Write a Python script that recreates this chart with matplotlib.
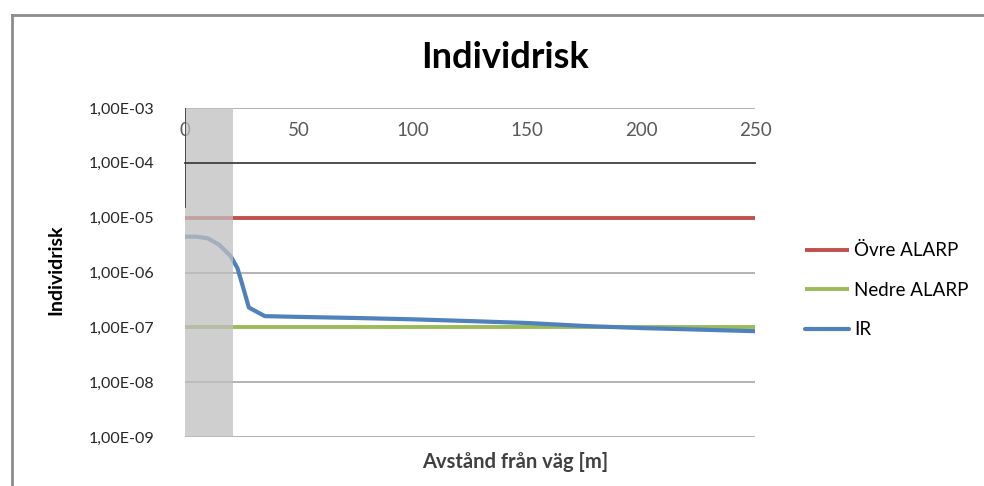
import matplotlib
matplotlib.use("Agg")
import matplotlib.pyplot as plt
from matplotlib.lines import Line2D
from matplotlib.ticker import FixedLocator, FuncFormatter, NullLocator

plt.rcParams['font.family'] = ['Lato', 'DejaVu Sans']

# ---- data ----
distance = [0, 5, 10, 15, 20, 23, 25, 28, 35, 50, 75, 100, 125, 150, 175, 200, 225, 250]
ir = [4.5e-6, 4.5e-6, 4.2e-6, 3.2e-6, 2.0e-6, 1.2e-6, 6.3e-7, 2.3e-7, 1.6e-7,
      1.55e-7, 1.48e-7, 1.4e-7, 1.3e-7, 1.2e-7, 1.06e-7, 9.7e-8, 9.1e-8, 8.5e-8]
x_range = [0, 250]
ovre_alarp = [1e-5, 1e-5]
nedre_alarp = [1e-7, 1e-7]
shaded_zone = [0, 21]
y_ticks = [1e-9, 1e-8, 1e-7, 1e-6, 1e-5, 1e-4, 1e-3]
x_ticks = [0, 50, 100, 150, 200, 250]

title = "Individrisk"
ylabel = "Individrisk"
xlabel = "Avstånd från väg [m]"
labels = ["Övre ALARP", "Nedre ALARP", "IR"]
colors = ["#C0504D", "#9BBB59", "#4F81BD"]

fig = plt.figure(figsize=(9.84, 4.86), dpi=100)
ax = fig.add_axes([185/984, 1-437/486, 570/984, 329/486])
ax.set_yscale('log')
ax.set_xlim(x_range)
ax.set_ylim(y_ticks[0], y_ticks[-1])

# gridlines
for v in y_ticks:
    if v != 1e-4:
        ax.axhline(v, color="#A6A6A6", lw=1.2, zorder=1)

l1, = ax.plot(x_range, ovre_alarp, color=colors[0], lw=2.8, zorder=3, solid_capstyle='butt')
l2, = ax.plot(x_range, nedre_alarp, color=colors[1], lw=2.8, zorder=3, solid_capstyle='butt')
l3, = ax.plot(distance, ir, color=colors[2], lw=3.0, zorder=4, solid_capstyle='round')

ax.axvspan(shaded_zone[0], shaded_zone[1], color="#BFBFBF", alpha=0.75, lw=0, zorder=5)

for s in ['left', 'right', 'bottom']:
    ax.spines[s].set_visible(False)
ax.spines['top'].set_position(('data', 1e-4))
ax.spines['top'].set_color('#404040')
ax.spines['top'].set_linewidth(1.3)
ax.spines['top'].set_zorder(6)
ax.axvline(0, ymin=0.70, ymax=1.0, color='#404040', lw=1.3, zorder=6)

ax.xaxis.tick_top()
ax.set_xticks(x_ticks)
ax.tick_params(axis='x', length=0, pad=17, labelsize=13.5, labelcolor='#595959')
ax.yaxis.set_major_locator(FixedLocator(y_ticks))
ax.yaxis.set_minor_locator(NullLocator())
ax.yaxis.set_major_formatter(FuncFormatter(
    lambda v, p: ("%.2E" % v).replace('.', ',')))
ax.tick_params(axis='y', length=0, pad=22, labelsize=11.5, labelcolor='#262626')

fig.text(505/984, 1-57/486, title, ha='center', va='center', fontsize=26, fontweight='bold')
fig.text(56/984, 1-270/486, ylabel, ha='center', va='center', rotation=90,
         fontsize=14, fontweight='bold')
fig.text(515/984, 1-462/486, xlabel, ha='center', va='center', fontsize=14.5,
         fontweight='bold', color='#404040')

fig.legend([l1, l2, l3], labels, loc='center left', bbox_to_anchor=(805/984, 1-290/486),
           frameon=False, fontsize=13.5, handlelength=2.35, handletextpad=0.25,
           labelspacing=1.2, borderpad=0, borderaxespad=0)

# outer chart frame
fig.add_artist(Line2D([12/984, 1], [1-15/486, 1-15/486], color='#8C8C8C', lw=2,
                      transform=fig.transFigure))
fig.add_artist(Line2D([12/984, 12/984], [0, 1-15/486], color='#8C8C8C', lw=2,
                      transform=fig.transFigure))

fig.savefig("out.png", dpi=100)
